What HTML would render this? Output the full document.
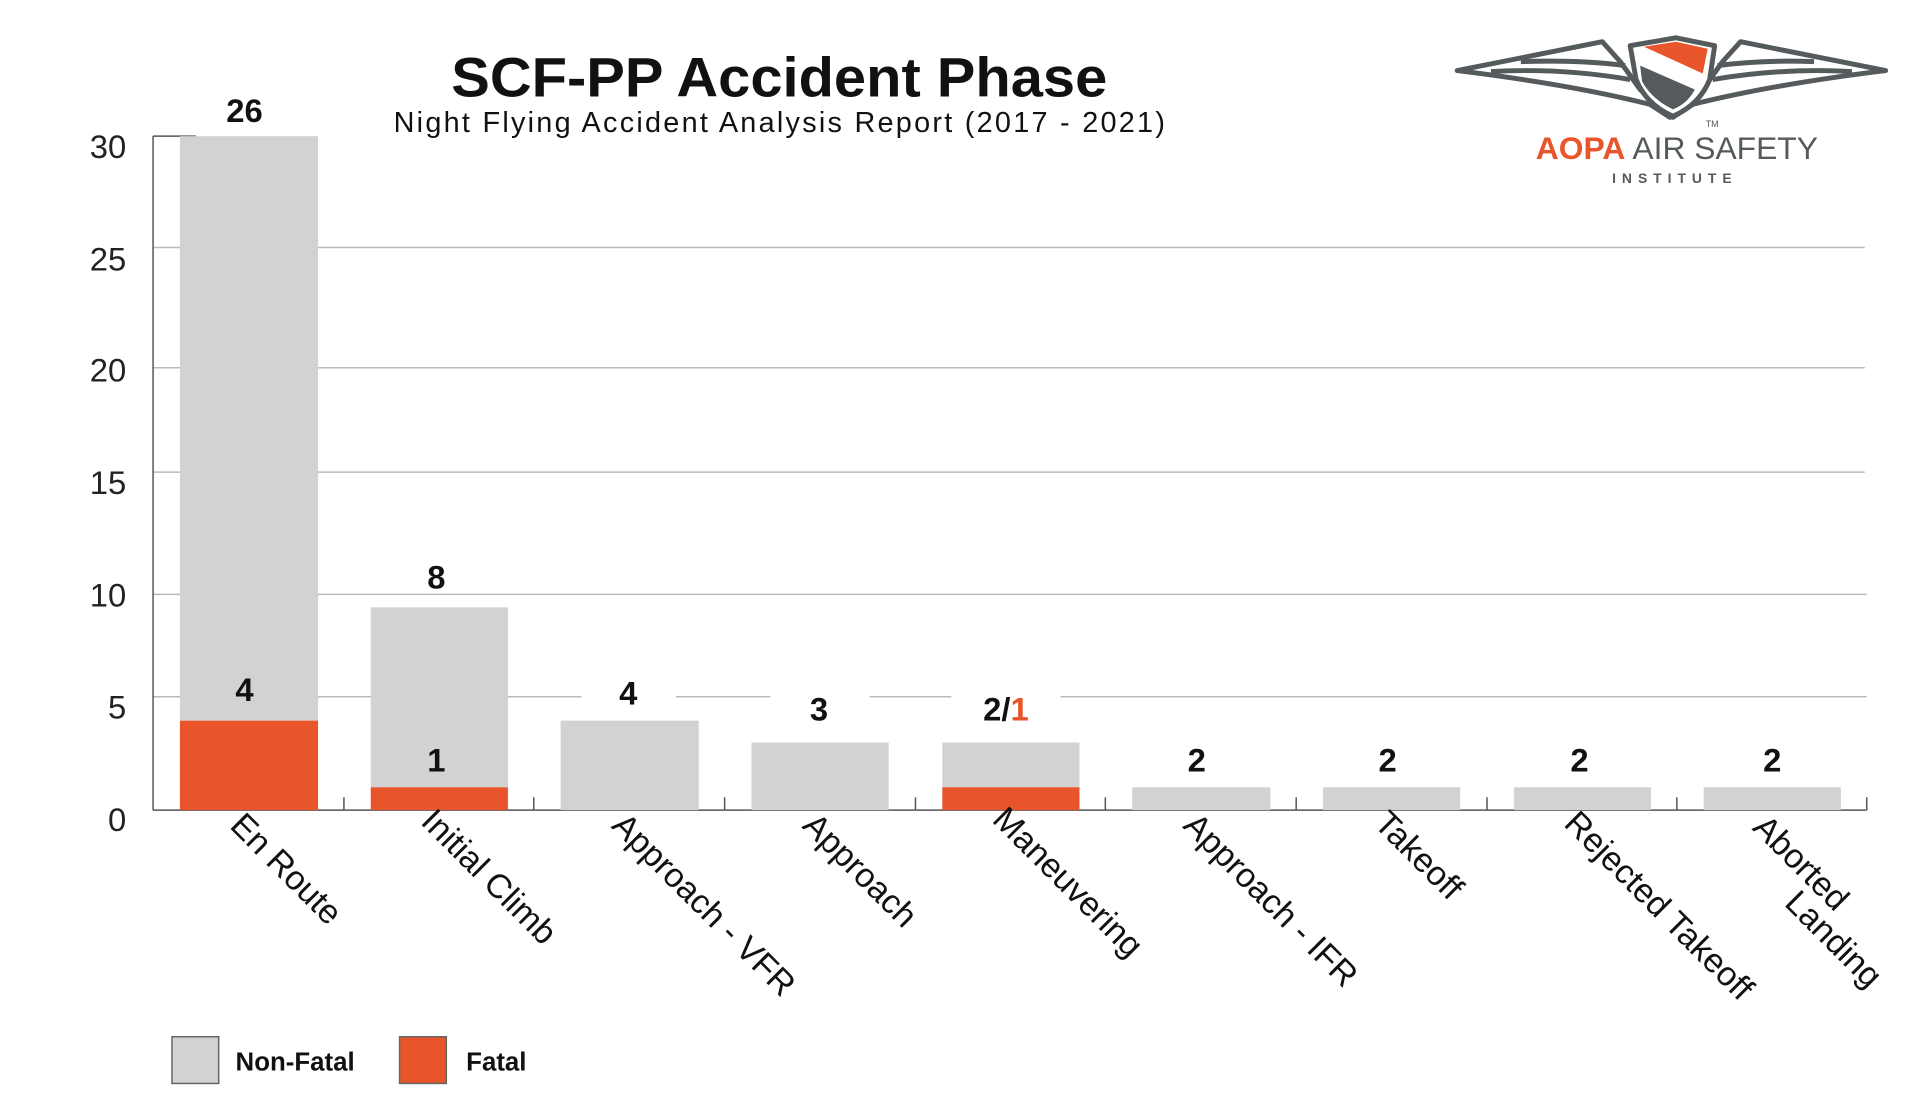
<!DOCTYPE html>
<html><head><meta charset="utf-8"><style>
html,body{margin:0;padding:0;background:#fff}
svg{display:block}
text{font-family:"Liberation Sans",sans-serif}
</style></head><body>
<svg width="1920" height="1100" viewBox="0 0 1920 1100" xmlns="http://www.w3.org/2000/svg">
<rect width="1920" height="1100" fill="#fff"/>
<g transform="scale(0.994)">
<g stroke="#b9babc" stroke-width="1.5">
<line x1="154" y1="249" x2="1876" y2="249"/>
<line x1="154" y1="370" x2="1876" y2="370"/>
<line x1="154" y1="475" x2="1876" y2="475"/>
<line x1="154" y1="598" x2="1878" y2="598"/>
<line x1="154" y1="701" x2="1878" y2="701"/>
</g>
<g stroke="#555" stroke-width="1.5">
<line x1="154" y1="137" x2="154" y2="815"/>
<line x1="154" y1="137" x2="197" y2="137"/>
<line x1="154" y1="815" x2="1878" y2="815"/>
<line x1="346" y1="802" x2="346" y2="815"/>
<line x1="537" y1="802" x2="537" y2="815"/>
<line x1="729" y1="802" x2="729" y2="815"/>
<line x1="921" y1="802" x2="921" y2="815"/>
<line x1="1112" y1="802" x2="1112" y2="815"/>
<line x1="1304" y1="802" x2="1304" y2="815"/>
<line x1="1496" y1="802" x2="1496" y2="815"/>
<line x1="1687" y1="802" x2="1687" y2="815"/>
<line x1="1878" y1="802" x2="1878" y2="815"/>
</g>
<g>
<rect x="181" y="137" width="139" height="588" fill="#d1d2d4"/>
<rect x="181" y="725" width="139" height="90" fill="#e9552b"/>
<rect x="373" y="611" width="138" height="181" fill="#d1d2d4"/>
<rect x="373" y="792" width="138" height="23" fill="#e9552b"/>
<rect x="564" y="725" width="139" height="90" fill="#d1d2d4"/>
<rect x="756" y="747" width="138" height="68" fill="#d1d2d4"/>
<rect x="948" y="747" width="138" height="45" fill="#d1d2d4"/>
<rect x="948" y="792" width="138" height="23" fill="#e9552b"/>
<rect x="1139" y="792" width="139" height="23" fill="#d1d2d4"/>
<rect x="1331" y="792" width="138" height="23" fill="#d1d2d4"/>
<rect x="1523" y="792" width="138" height="23" fill="#d1d2d4"/>
<rect x="1714" y="792" width="138" height="23" fill="#d1d2d4"/>
</g>
<g fill="#fff">
<rect x="585" y="683" width="95" height="36"/>
<rect x="775" y="683" width="100" height="36"/>
<rect x="957" y="683" width="110" height="36"/>
</g>
<g font-size="33" font-weight="bold" fill="#111" text-anchor="middle">
<text x="246" y="123">26</text>
<text x="246" y="705">4</text>
<text x="439" y="592">8</text>
<text x="439" y="776">1</text>
<text x="632" y="709">4</text>
<text x="824" y="725">3</text>
<text x="1012" y="725">2/<tspan fill="#e9552b">1</tspan></text>
<text x="1204" y="776">2</text>
<text x="1396" y="776">2</text>
<text x="1589" y="776">2</text>
<text x="1783" y="776">2</text>
</g>
<g font-size="33" fill="#222" text-anchor="end">
<text x="127" y="159">30</text>
<text x="127" y="272">25</text>
<text x="127" y="384">20</text>
<text x="127" y="497">15</text>
<text x="127" y="610">10</text>
<text x="127" y="723">5</text>
<text x="127" y="836">0</text>
</g>
<g font-size="34" fill="#111">
<text transform="translate(230,832) rotate(45)">En Route</text>
<text transform="translate(422,828) rotate(45)">Initial Climb</text>
<text transform="translate(614,832) rotate(45)">Approach - VFR</text>
<text transform="translate(806,832) rotate(45)">Approach</text>
<text transform="translate(997,826) rotate(45)">Maneuvering</text>
<text transform="translate(1189,832) rotate(45)">Approach - IFR</text>
<text transform="translate(1381,830) rotate(45)">Takeoff</text>
<text transform="translate(1572,830) rotate(45)">Rejected Takeoff</text>
<text transform="translate(1762,834) rotate(45)">Aborted</text>
<text transform="translate(1794,910) rotate(45)">Landing</text>
</g>
<text x="784" y="97" text-anchor="middle" font-size="56" font-weight="bold" fill="#111" textLength="660" lengthAdjust="spacingAndGlyphs">SCF-PP Accident Phase</text>
<text x="784" y="133" text-anchor="middle" font-size="29" fill="#111" textLength="776" lengthAdjust="spacing">Night Flying Accident Analysis Report (2017 - 2021)</text>
<rect x="173" y="1043" width="47" height="47" fill="#d1d2d4" stroke="#666" stroke-width="1.5"/>
<text x="237" y="1077" font-size="26" font-weight="bold" fill="#111">Non-Fatal</text>
<rect x="402" y="1043" width="47" height="47" fill="#e9552b" stroke="#666" stroke-width="1.5"/>
<text x="469" y="1077" font-size="26" font-weight="bold" fill="#111">Fatal</text>
<g stroke="#555a5c" stroke-width="5" fill="none" stroke-linejoin="round">
<path d="M1466 71 L1612 42 L1630 62 L1650 90 L1680 118 L1660 105 Q1580 85 1466 71 Z"/>
<path d="M1897 71 L1751 42 L1733 62 L1713 90 L1683 118 L1703 105 Q1783 85 1897 71 Z"/>
<path d="M1500 72 Q1570 68 1640 80 M1530 62 Q1590 60 1635 66 M1825 62 Q1773 60 1728 66 M1863 72 Q1793 68 1723 80"/>
<path d="M1640 46 L1686 38 L1725 46 L1720 80 Q1710 105 1683 117 Q1656 105 1646 80 Z" fill="#fff"/>
</g>
<path d="M1654 47 L1686 42 L1718 49 L1713 74 Z" fill="#e9552b"/>
<path d="M1650 66 L1705 90 Q1698 104 1683 110 Q1662 100 1652 82 Z" fill="#555a5c"/>
<text x="1716" y="128" font-size="9" fill="#555">TM</text>
<text x="1687" y="160" text-anchor="middle" font-size="32" fill="#555a5c"><tspan fill="#e9552b" font-weight="bold">AOPA</tspan> AIR SAFETY</text>
<text x="1685" y="184" text-anchor="middle" font-size="14" font-weight="bold" fill="#555a5c" letter-spacing="6">INSTITUTE</text>
</g>
</svg>
</body></html>
